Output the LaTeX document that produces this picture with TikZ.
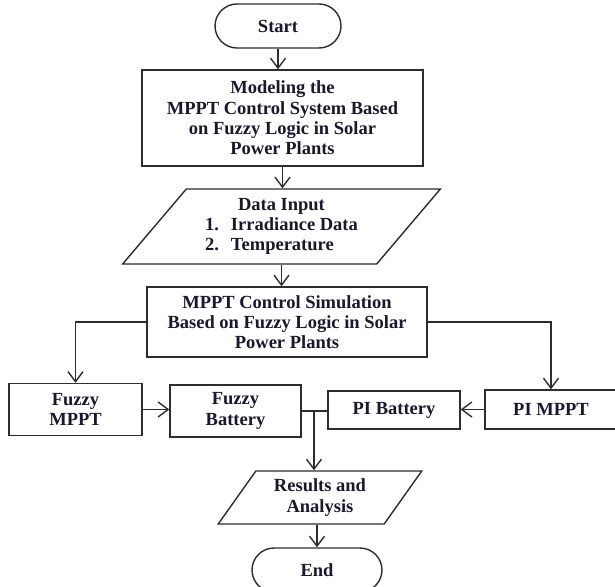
\documentclass[tikz,border=0pt]{standalone}
\usepackage{fontspec}
\setmainfont{Liberation Serif}
\usetikzlibrary{arrows.meta,shapes.geometric}
\definecolor{ln}{RGB}{45,45,45}
\definecolor{tx}{RGB}{25,25,45}
\begin{document}
\begin{tikzpicture}[x=1pt,y=-1pt,
  base/.style={draw=ln, line width=1.4pt, text=tx, font=\fontsize{18.5}{20.3}\selectfont\bfseries, align=center, inner sep=0pt},
  proc/.style={base, rectangle},
  term/.style={base, rectangle, rounded corners=22pt},
  io/.style={base, trapezium, trapezium stretches=true},
  arr/.style={draw=ln, line width=1.4pt, -{Straight Barb[length=10pt,width=15pt,line width=1.4pt]}},
  conn/.style={draw=ln, line width=1.4pt}]
\fill[white] (0,0) rectangle (615,586);
\useasboundingbox (0,0) rectangle (615,586);

\node[term, minimum width=126pt, minimum height=44pt] (start) at (278,26) {Start};
\node[proc, minimum width=281pt, minimum height=96pt] (model) at (282.5,118)
  {Modeling the\\MPPT Control System Based\\on Fuzzy Logic in Solar\\Power Plants};
\node[io, trapezium left angle=50, trapezium right angle=130, minimum width=319pt, minimum height=75pt] (data) at (281.5,226.5)
  {\begin{tabular}{@{}l@{\hspace{12pt}}l@{}}\multicolumn{2}{c}{Data Input}\\1. & Irradiance Data\\2. & Temperature\end{tabular}};
\node[proc, minimum width=280pt, minimum height=70pt] (sim) at (287,322)
  {MPPT Control Simulation\\Based on Fuzzy Logic in Solar\\Power Plants};
\node[proc, minimum width=133pt, minimum height=52pt] (fmppt) at (75.5,409.5) {Fuzzy\\MPPT};
\node[proc, minimum width=131pt, minimum height=52pt] (fbat) at (235.5,411) {Fuzzy\\Battery};
\node[proc, minimum width=132pt, minimum height=38pt] (pbat) at (394,410) {PI Battery};
\node[proc, minimum width=132pt, minimum height=39pt] (pmppt) at (551,409.5) {PI MPPT};
\node[io, trapezium left angle=54, trapezium right angle=126, minimum width=204pt, minimum height=53pt] (res) at (320,497.5)
  {Results and\\Analysis};
\node[term, minimum width=130pt, minimum height=44pt] (end) at (317,570) {End};

\coordinate (j) at (314,411);

\draw[arr] (start.south) -- (start.south |- model.north);
\draw[arr] (model.south) -- (model.south |- data.north);
\draw[arr] (data.center |- data.south) -- (data.center |- sim.north);
\draw[arr] (sim.west) -| (fmppt.north);
\draw[arr] (sim.east) -| (pmppt.north);
\draw[arr] (fmppt.east) -- (fmppt.east -| fbat.west);
\draw[arr] (pmppt.west) -- (pmppt.west -| pbat.east);
\draw[conn] (fbat.east) -- (fbat.east -| pbat.west);
\draw[arr] (j) -- (j |- res.north);
\draw[arr] (end.north |- res.south) -- (end.north);
\end{tikzpicture}
\end{document}
